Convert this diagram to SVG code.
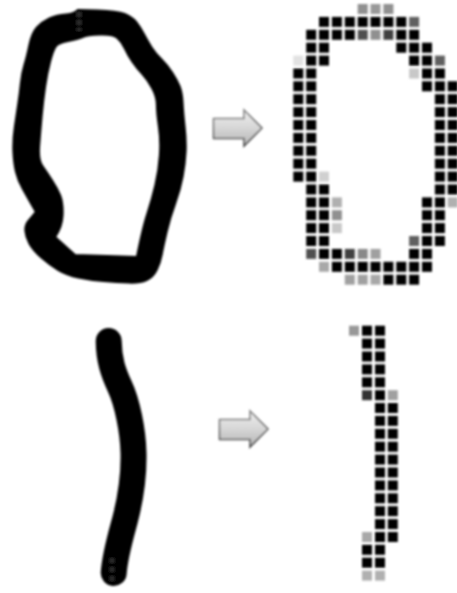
<svg xmlns="http://www.w3.org/2000/svg" width="457" height="593" viewBox="0 0 457 593">
<style>
.cells{filter:url(#soft)}
.cells use{fill:#000}
</style>
<defs>
<filter id="soft" filterUnits="userSpaceOnUse" x="0" y="0" width="457" height="593"><feGaussianBlur stdDeviation="0.85"/></filter>
<filter id="soft2" filterUnits="userSpaceOnUse" x="0" y="0" width="457" height="593"><feGaussianBlur stdDeviation="1"/></filter>
<linearGradient id="af" x1="0" y1="0" x2="0" y2="1"><stop offset="0" stop-color="#f0f0f0"/><stop offset="0.5" stop-color="#d6d6d6"/><stop offset="1" stop-color="#b4b4b4"/></linearGradient>
<linearGradient id="as" x1="0" y1="0" x2="0" y2="1"><stop offset="0" stop-color="#8a8a8a"/><stop offset="1" stop-color="#4a4a4a"/></linearGradient>
<rect id="c" width="10" height="10"/>
<path id="arrow" d="M213.5 118.5H244V110L262 128L244 146V138.5H213.5Z" fill="url(#af)" stroke="url(#as)" stroke-width="1.6" stroke-linejoin="miter"/>
</defs>
<rect width="457" height="593" fill="#fff"/>
<g id="stroke-zero" filter="url(#soft2)">
<path fill="#000" fill-rule="evenodd" stroke="#000" stroke-width="2.2" stroke-linejoin="round" d="M97.5 10.5 Q117 11 124.5 14 Q132 17 136 22 Q140 27 144 34.5 Q148 42 151.5 47.5 Q155 53 161 59 Q167 65 172 72.5 Q177 80 179.5 86.5 Q182 93 182.5 103 Q183 113 184.5 126.5 Q186 140 185.5 151.5 Q185 163 182.5 176.5 Q180 190 175 203.5 Q170 217 166.5 232 Q163 247 161.5 255 Q160 263 156.5 270 Q153 277 146.5 280 Q140 283 128.5 282.5 Q117 282 103.5 281 Q90 280 78.5 277.5 Q67 275 58.5 270 Q50 265 41.5 257.5 Q33 250 29.5 243.5 Q26 237 25.5 231 Q25 225 28.5 221 Q32 217 36 212 L32 205 Q28 198 23 189 Q18 180 16 171.5 Q14 163 13.5 151.5 Q13 140 15 126.5 Q17 113 18.5 103 Q20 93 21 83 Q22 73 24.5 65 Q27 57 29.5 45 Q32 33 37 27.5 Q42 22 49.5 18.5 Q57 15 66 14.5 Q75 14 78 10 Q78 10 97.5 10.5 Z M68 41 Q58 43 55.5 46.5 Q53 50 50 61.5 Q47 73 45 86.5 Q43 100 41.5 116.5 Q40 133 39 146.5 Q38 160 42.5 166.5 Q47 173 52 180.5 Q57 188 60 195.5 Q63 203 62.5 215 Q62 227 55 237 L75 255 L107 256 L137 257 Q143 227 147.5 213.5 Q152 200 155.5 185 Q159 170 160 155 Q161 140 159 126.5 Q157 113 157 105 Q157 97 152.5 88.5 Q148 80 142.5 74 Q137 68 132.5 61.5 Q128 55 125 48.5 Q122 42 117.5 38 Q113 34 100 34.5 Q87 35 82.5 37 Q78 39 68 41 Z"/>
<path d="M79 12V31" stroke="#2c2c2c" stroke-width="5" stroke-dasharray="5 3" fill="none"/>
</g>
<g id="grid-zero" class="cells">
<g transform="translate(0,4)"><use href="#c" x="357.7" style="fill:#909090"/><use href="#c" x="370.5" style="fill:#999"/><use href="#c" x="383.4" style="fill:#909090"/></g>
<g transform="translate(0,16.9)"><use href="#c" x="319"/><use href="#c" x="331.9"/><use href="#c" x="344.8"/><use href="#c" x="357.7"/><use href="#c" x="370.5"/><use href="#c" x="383.4"/><use href="#c" x="396.3"/><use href="#c" x="409.1" style="fill:#606060"/></g>
<g transform="translate(0,29.8)"><use href="#c" x="306.2"/><use href="#c" x="319"/><use href="#c" x="331.9"/><use href="#c" x="344.8"/><use href="#c" x="357.7" style="fill:#505050"/><use href="#c" x="370.5" style="fill:#909090"/><use href="#c" x="383.4" style="fill:#404040"/><use href="#c" x="396.3"/><use href="#c" x="409.1"/></g>
<g transform="translate(0,42.7)"><use href="#c" x="306.2"/><use href="#c" x="319"/><use href="#c" x="396.3"/><use href="#c" x="409.1"/><use href="#c" x="422"/></g>
<g transform="translate(0,55.6)"><use href="#c" x="293.3" style="fill:#e2e2e2"/><use href="#c" x="306.2"/><use href="#c" x="319"/><use href="#c" x="409.1"/><use href="#c" x="422"/><use href="#c" x="434.9" style="fill:#606060"/></g>
<g transform="translate(0,68.5)"><use href="#c" x="293.3"/><use href="#c" x="306.2"/><use href="#c" x="409.1" style="fill:#c8c8c8"/><use href="#c" x="422"/><use href="#c" x="434.9"/></g>
<g transform="translate(0,81.3)"><use href="#c" x="293.3"/><use href="#c" x="306.2"/><use href="#c" x="422"/><use href="#c" x="434.9"/><use href="#c" x="447.7"/></g>
<g transform="translate(0,94.2)"><use href="#c" x="293.3"/><use href="#c" x="306.2"/><use href="#c" x="434.9"/><use href="#c" x="447.7"/></g>
<g transform="translate(0,107.1)"><use href="#c" x="293.3"/><use href="#c" x="306.2"/><use href="#c" x="434.9"/><use href="#c" x="447.7"/></g>
<g transform="translate(0,120)"><use href="#c" x="293.3"/><use href="#c" x="306.2"/><use href="#c" x="434.9"/><use href="#c" x="447.7"/></g>
<g transform="translate(0,132.9)"><use href="#c" x="293.3"/><use href="#c" x="306.2"/><use href="#c" x="434.9"/><use href="#c" x="447.7"/></g>
<g transform="translate(0,145.8)"><use href="#c" x="293.3"/><use href="#c" x="306.2"/><use href="#c" x="434.9"/><use href="#c" x="447.7"/></g>
<g transform="translate(0,158.7)"><use href="#c" x="293.3"/><use href="#c" x="306.2"/><use href="#c" x="434.9"/><use href="#c" x="447.7"/></g>
<g transform="translate(0,171.6)"><use href="#c" x="293.3"/><use href="#c" x="306.2"/><use href="#c" x="319" style="fill:#d0d0d0"/><use href="#c" x="434.9"/><use href="#c" x="447.7"/></g>
<g transform="translate(0,184.5)"><use href="#c" x="306.2"/><use href="#c" x="319"/><use href="#c" x="434.9"/><use href="#c" x="447.7"/></g>
<g transform="translate(0,197.4)"><use href="#c" x="306.2"/><use href="#c" x="319"/><use href="#c" x="331.9" style="fill:#b0b0b0"/><use href="#c" x="422"/><use href="#c" x="434.9"/><use href="#c" x="447.7" style="fill:#b0b0b0"/></g>
<g transform="translate(0,210.2)"><use href="#c" x="306.2"/><use href="#c" x="319"/><use href="#c" x="331.9" style="fill:#909090"/><use href="#c" x="422"/><use href="#c" x="434.9"/></g>
<g transform="translate(0,223.1)"><use href="#c" x="306.2"/><use href="#c" x="319"/><use href="#c" x="331.9" style="fill:#c8c8c8"/><use href="#c" x="422"/><use href="#c" x="434.9"/></g>
<g transform="translate(0,236)"><use href="#c" x="306.2"/><use href="#c" x="319"/><use href="#c" x="409.1" style="fill:#606060"/><use href="#c" x="422"/><use href="#c" x="434.9"/></g>
<g transform="translate(0,248.9)"><use href="#c" x="306.2" style="fill:#505050"/><use href="#c" x="319"/><use href="#c" x="331.9"/><use href="#c" x="344.8" style="fill:#404040"/><use href="#c" x="357.7" style="fill:#888"/><use href="#c" x="370.5" style="fill:#a0a0a0"/><use href="#c" x="409.1"/><use href="#c" x="422"/></g>
<g transform="translate(0,261.8)"><use href="#c" x="319" style="fill:#a8a8a8"/><use href="#c" x="331.9"/><use href="#c" x="344.8"/><use href="#c" x="357.7"/><use href="#c" x="370.5"/><use href="#c" x="383.4"/><use href="#c" x="396.3"/><use href="#c" x="409.1"/><use href="#c" x="422"/></g>
<g transform="translate(0,274.7)"><use href="#c" x="344.8" style="fill:#a0a0a0"/><use href="#c" x="357.7" style="fill:#a0a0a0"/><use href="#c" x="370.5" style="fill:#a8a8a8"/><use href="#c" x="383.4"/><use href="#c" x="396.3"/><use href="#c" x="409.1"/></g>
</g>
<g id="arrow-top" filter="url(#soft)"><use href="#arrow"/></g>
<g id="stroke-one" filter="url(#soft2)">
<path d="M108.7 341 C109 360 113 372 120 387 C127 402 133 430 133.5 453 C134 475 131 497 125 520 C121 535 115 555 113.7 573" fill="none" stroke="#000" stroke-width="26" stroke-linecap="round"/>
<path d="M112 558V582" stroke="#262626" stroke-width="5" stroke-dasharray="5 4" fill="none"/>
</g>
<g id="grid-one" class="cells">
<g transform="translate(0,325.7)"><use href="#c" x="349" style="fill:#989898"/><use href="#c" x="362"/><use href="#c" x="375"/></g>
<g transform="translate(0,338.6)"><use href="#c" x="362"/><use href="#c" x="375"/></g>
<g transform="translate(0,351.5)"><use href="#c" x="362"/><use href="#c" x="375"/></g>
<g transform="translate(0,364.4)"><use href="#c" x="362"/><use href="#c" x="375"/></g>
<g transform="translate(0,377.3)"><use href="#c" x="362"/><use href="#c" x="375"/></g>
<g transform="translate(0,390.2)"><use href="#c" x="362" style="fill:#303030"/><use href="#c" x="375"/><use href="#c" x="387.8" style="fill:#a0a0a0"/></g>
<g transform="translate(0,403)"><use href="#c" x="375"/><use href="#c" x="387.8"/></g>
<g transform="translate(0,415.9)"><use href="#c" x="375"/><use href="#c" x="387.8"/></g>
<g transform="translate(0,428.8)"><use href="#c" x="375"/><use href="#c" x="387.8"/></g>
<g transform="translate(0,441.7)"><use href="#c" x="375"/><use href="#c" x="387.8"/></g>
<g transform="translate(0,454.6)"><use href="#c" x="375"/><use href="#c" x="387.8"/></g>
<g transform="translate(0,467.5)"><use href="#c" x="375"/><use href="#c" x="387.8"/></g>
<g transform="translate(0,480.4)"><use href="#c" x="375"/><use href="#c" x="387.8"/></g>
<g transform="translate(0,493.3)"><use href="#c" x="375"/><use href="#c" x="387.8"/></g>
<g transform="translate(0,506.2)"><use href="#c" x="375"/><use href="#c" x="387.8"/></g>
<g transform="translate(0,519.1)"><use href="#c" x="375"/><use href="#c" x="387.8"/></g>
<g transform="translate(0,532)"><use href="#c" x="362" style="fill:#a8a8a8"/><use href="#c" x="375"/><use href="#c" x="387.8"/></g>
<g transform="translate(0,544.8)"><use href="#c" x="362"/><use href="#c" x="375"/></g>
<g transform="translate(0,557.7)"><use href="#c" x="362"/><use href="#c" x="375"/></g>
<g transform="translate(0,570.6)"><use href="#c" x="362" style="fill:#b0b0b0"/><use href="#c" x="375" style="fill:#b0b0b0"/></g>
</g>
<g id="arrow-bottom" filter="url(#soft)"><use href="#arrow" transform="translate(6,301)"/></g>
</svg>
